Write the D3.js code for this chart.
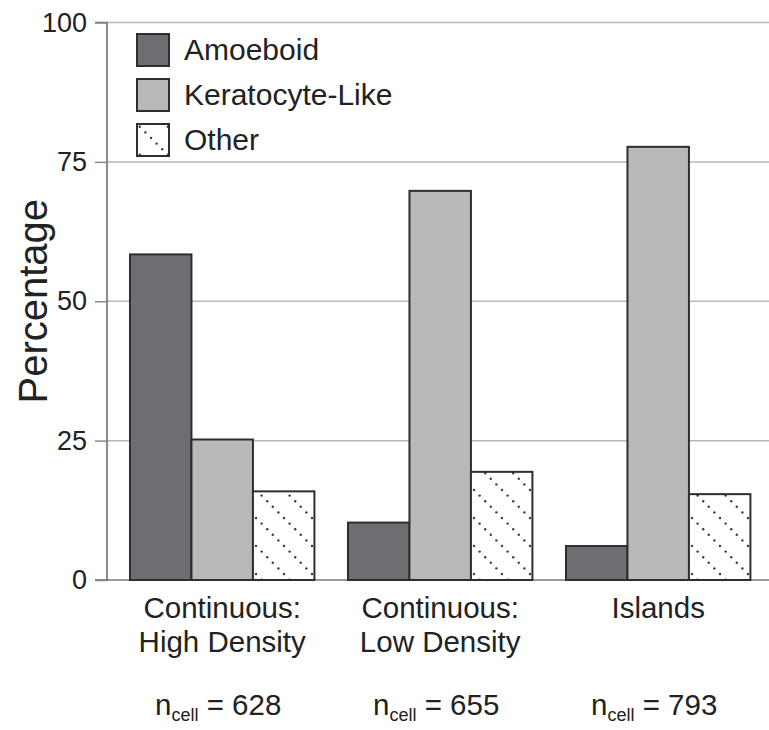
<!DOCTYPE html>
<html>
<head>
<meta charset="utf-8">
<script src="https://cdn.jsdelivr.net/npm/d3@7"></script>
<style>
  html, body { margin: 0; padding: 0; background: #fff; }
  svg { display: block; font-family: "Liberation Sans", Arial, sans-serif; }
</style>
</head>
<body>
<svg id="chart" width="769" height="730"></svg>
<script>
// Cell morphology by substrate condition (percent of cells)
const categories = [["Continuous:", "High Density"], ["Continuous:", "Low Density"], ["Islands"]];
const seriesNames = ["Amoeboid", "Keratocyte-Like", "Other"];
const amoeboid = [58.4, 10.3, 6.1];
const keratocyteLike = [25.2, 69.8, 77.7];
const other = [15.9, 19.4, 15.4];
const nCell = [628, 655, 793];
const yTicks = [0, 25, 50, 75, 100];

const series = [amoeboid, keratocyteLike, other];
const rows = categories.map((c, i) => ({ idx: i, values: series.map(s => s[i]) }));

const svg = d3.select("#chart");
const axisX = 107, rightEdge = 769;

const y = d3.scaleLinear().domain([0, 100]).range([580, 22.5]);
const x0 = d3.scaleBand().domain(d3.range(categories.length))
  .range([113.2, 767.2]).paddingInner(0.154).paddingOuter(0.077);
const x1 = d3.scaleBand().domain(d3.range(seriesNames.length))
  .range([0, x0.bandwidth()]);

// hatched dot fill for the "Other" bars
const defs = svg.append("defs");
const pat = defs.append("pattern").attr("id", "dots")
  .attr("patternUnits", "userSpaceOnUse").attr("width", 28).attr("height", 28);
pat.append("rect").attr("width", 28).attr("height", 28).attr("fill", "#fff");
d3.range(5).forEach(k => {
  pat.append("circle").attr("cx", 2.8 + k * 5.6).attr("cy", 2.8 + k * 5.6)
    .attr("r", 1.2).attr("fill", "#3a3a3a");
});
const fills = ["#6d6e71", "#b7b9bb", "url(#dots)"];

// gridlines
svg.append("g").selectAll("line").data(yTicks).join("line")
  .attr("x1", axisX).attr("x2", rightEdge)
  .attr("y1", d => y(d)).attr("y2", d => y(d))
  .attr("stroke", d => d === 0 ? "#777" : "#b8b8b8")
  .attr("stroke-width", 1.5);

// y axis
const yAxis = d3.axisLeft(y).tickValues(yTicks).tickSize(12).tickPadding(8);
const gy = svg.append("g").attr("transform", `translate(${axisX},0)`).call(yAxis);
gy.select(".domain").attr("stroke", "#666").attr("stroke-width", 1.5)
  .attr("d", `M-12,${y(100)}H0V${y(0)}H-12`);
gy.selectAll(".tick line").attr("stroke", "#888").attr("stroke-width", 1.5);
gy.selectAll(".tick text").attr("font-size", 27).attr("fill", "#222")
  .attr("font-family", "Liberation Sans, Arial, sans-serif");

svg.append("text")
  .attr("transform", `translate(47,${(y(0) + y(100)) / 2}) rotate(-90)`)
  .attr("text-anchor", "middle").attr("font-size", 40).attr("fill", "#222")
  .text("Percentage");

// bars
const groups = svg.append("g").selectAll("g").data(rows).join("g")
  .attr("transform", d => `translate(${x0(d.idx)},0)`);
groups.selectAll("rect").data(d => d.values.map((v, j) => ({ v, j }))).join("rect")
  .attr("x", d => x1(d.j)).attr("width", x1.bandwidth())
  .attr("y", d => y(d.v)).attr("height", d => y(0) - y(d.v))
  .attr("fill", d => fills[d.j]).attr("stroke", "#2e2e2e").attr("stroke-width", 2);

// category labels
const catG = svg.append("g").selectAll("text").data(rows).join("text")
  .attr("text-anchor", "middle").attr("font-size", 29.5).attr("fill", "#222")
  .attr("x", d => x0(d.idx) + x0.bandwidth() / 2).attr("y", 618);
catG.selectAll("tspan").data(d => categories[d.idx]).join("tspan")
  .attr("x", function () { return d3.select(this.parentNode).attr("x"); })
  .attr("dy", (d, i) => i === 0 ? 0 : 34).text(d => d);

// sample sizes
const nG = svg.append("g").selectAll("text").data(rows).join("text")
  .attr("text-anchor", "middle").attr("font-size", 29.5).attr("fill", "#222")
  .attr("x", d => x0(d.idx) + x0.bandwidth() / 2 - 4).attr("y", 715);
nG.append("tspan").text("n");
nG.append("tspan").attr("font-size", 18).attr("dy", 6).text("cell");
nG.append("tspan").attr("dy", -6).text(d => " = " + nCell[d.idx]);

// legend
const leg = svg.append("g").selectAll("g").data(seriesNames).join("g")
  .attr("transform", (d, i) => `translate(137,${34 + i * 45})`);
leg.append("rect").attr("width", 32).attr("height", 32)
  .attr("fill", (d, i) => fills[i]).attr("stroke", "#2e2e2e").attr("stroke-width", 2);
leg.append("text").attr("x", 47).attr("y", 26).attr("font-size", 30).attr("fill", "#222")
  .text(d => d);
</script>
</body>
</html>
